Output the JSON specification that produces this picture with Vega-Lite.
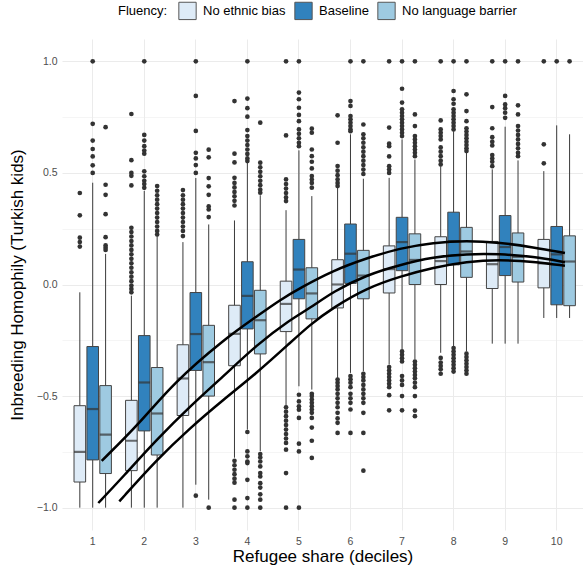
{
"$schema": "https://vega.github.io/schema/vega-lite/v6.json",
"width": 521, "height": 491,
"autosize": {"type": "none"},
"padding": {"left": 62, "top": 39, "right": 0, "bottom": 39},
"background": "white",
"config": {
  "font": "Liberation Sans",
  "view": {"stroke": null},
  "axis": {"domain": false, "ticks": false, "gridColor": "#ebebeb", "labelColor": "#4d4d4d", "labelFontSize": 10.5, "titleFontWeight": "normal", "titleColor": "#000000", "titleFontSize": 17}
},
"datasets": {
"boxes": [
{"decile":1,"fluency":"No ethnic bias","lo":-1.0,"q1":-0.885,"med":-0.75,"q3":-0.543,"hi":-0.035},
{"decile":1,"fluency":"Baseline","lo":-1.0,"q1":-0.786,"med":-0.558,"q3":-0.278,"hi":0.456},
{"decile":1,"fluency":"No language barrier","lo":-1.0,"q1":-0.847,"med":-0.673,"q3":-0.453,"hi":0.137},
{"decile":2,"fluency":"No ethnic bias","lo":-1.0,"q1":-0.834,"med":-0.70,"q3":-0.519,"hi":-0.05},
{"decile":2,"fluency":"Baseline","lo":-1.0,"q1":-0.656,"med":-0.439,"q3":-0.229,"hi":0.419},
{"decile":2,"fluency":"No language barrier","lo":-1.0,"q1":-0.764,"med":-0.578,"q3":-0.372,"hi":0.217},
{"decile":3,"fluency":"No ethnic bias","lo":-1.0,"q1":-0.587,"med":-0.421,"q3":-0.27,"hi":0.19},
{"decile":3,"fluency":"Baseline","lo":-0.897,"q1":-0.385,"med":-0.222,"q3":-0.036,"hi":0.477},
{"decile":3,"fluency":"No language barrier","lo":-0.964,"q1":-0.50,"med":-0.348,"q3":-0.183,"hi":0.269},
{"decile":4,"fluency":"No ethnic bias","lo":-0.776,"q1":-0.364,"med":-0.221,"q3":-0.093,"hi":0.287},
{"decile":4,"fluency":"Baseline","lo":-0.65,"q1":-0.199,"med":-0.051,"q3":0.102,"hi":0.546},
{"decile":4,"fluency":"No language barrier","lo":-0.747,"q1":-0.311,"med":-0.16,"q3":-0.026,"hi":0.40},
{"decile":5,"fluency":"No ethnic bias","lo":-0.546,"q1":-0.211,"med":-0.087,"q3":0.015,"hi":0.333},
{"decile":5,"fluency":"Baseline","lo":-0.456,"q1":-0.064,"med":0.067,"q3":0.202,"hi":0.601},
{"decile":5,"fluency":"No language barrier","lo":-0.471,"q1":-0.154,"med":-0.04,"q3":0.075,"hi":0.396},
{"decile":6,"fluency":"No ethnic bias","lo":-0.419,"q1":-0.105,"med":0.0,"q3":0.111,"hi":0.434},
{"decile":6,"fluency":"Baseline","lo":-0.396,"q1":0.005,"med":0.138,"q3":0.271,"hi":0.673},
{"decile":6,"fluency":"No language barrier","lo":-0.389,"q1":-0.064,"med":0.04,"q3":0.153,"hi":0.474},
{"decile":7,"fluency":"No ethnic bias","lo":-0.359,"q1":-0.038,"med":0.069,"q3":0.173,"hi":0.478},
{"decile":7,"fluency":"Baseline","lo":-0.291,"q1":0.062,"med":0.19,"q3":0.301,"hi":0.65},
{"decile":7,"fluency":"No language barrier","lo":-0.336,"q1":0.0,"med":0.11,"q3":0.227,"hi":0.56},
{"decile":8,"fluency":"No ethnic bias","lo":-0.306,"q1":0.0,"med":0.105,"q3":0.214,"hi":0.53},
{"decile":8,"fluency":"Baseline","lo":-0.276,"q1":0.088,"med":0.194,"q3":0.324,"hi":0.687},
{"decile":8,"fluency":"No language barrier","lo":-0.30,"q1":0.032,"med":0.148,"q3":0.256,"hi":0.59},
{"decile":9,"fluency":"No ethnic bias","lo":-0.265,"q1":-0.018,"med":0.091,"q3":0.193,"hi":0.516},
{"decile":9,"fluency":"Baseline","lo":-0.265,"q1":0.04,"med":0.168,"q3":0.309,"hi":0.707},
{"decile":9,"fluency":"No language barrier","lo":-0.265,"q1":0.011,"med":0.124,"q3":0.231,"hi":0.556},
{"decile":10,"fluency":"No ethnic bias","lo":-0.15,"q1":-0.015,"med":0.095,"q3":0.202,"hi":0.508},
{"decile":10,"fluency":"Baseline","lo":-0.15,"q1":-0.091,"med":0.135,"q3":0.26,"hi":0.713},
{"decile":10,"fluency":"No language barrier","lo":-0.15,"q1":-0.095,"med":0.103,"q3":0.218,"hi":0.673}
],
"outliers": [
{"decile":1,"fluency":"No ethnic bias","value":0.41},{"decile":1,"fluency":"No ethnic bias","value":0.31},{"decile":1,"fluency":"No ethnic bias","value":0.21},{"decile":1,"fluency":"No ethnic bias","value":0.19},{"decile":1,"fluency":"No ethnic bias","value":0.17},
{"decile":1,"fluency":"Baseline","value":1.0},{"decile":1,"fluency":"Baseline","value":0.72},{"decile":1,"fluency":"Baseline","value":0.645},{"decile":1,"fluency":"Baseline","value":0.607},{"decile":1,"fluency":"Baseline","value":0.574},{"decile":1,"fluency":"Baseline","value":0.534},{"decile":1,"fluency":"Baseline","value":0.50},
{"decile":1,"fluency":"No language barrier","value":0.705},{"decile":1,"fluency":"No language barrier","value":0.447},{"decile":1,"fluency":"No language barrier","value":0.402},{"decile":1,"fluency":"No language barrier","value":0.315},{"decile":1,"fluency":"No language barrier","value":0.212},{"decile":1,"fluency":"No language barrier","value":0.175},{"decile":1,"fluency":"No language barrier","value":0.165},{"decile":1,"fluency":"No language barrier","value":0.155},
{"decile":2,"fluency":"No ethnic bias","value":0.764},{"decile":2,"fluency":"No ethnic bias","value":0.557},{"decile":2,"fluency":"No ethnic bias","value":0.50},{"decile":2,"fluency":"No ethnic bias","value":0.487},{"decile":2,"fluency":"No ethnic bias","value":0.444},{"decile":2,"fluency":"No ethnic bias","value":0.254},{"decile":2,"fluency":"No ethnic bias","value":0.235},{"decile":2,"fluency":"No ethnic bias","value":0.215},{"decile":2,"fluency":"No ethnic bias","value":0.195},{"decile":2,"fluency":"No ethnic bias","value":0.175},{"decile":2,"fluency":"No ethnic bias","value":0.155},{"decile":2,"fluency":"No ethnic bias","value":0.135},{"decile":2,"fluency":"No ethnic bias","value":0.115},{"decile":2,"fluency":"No ethnic bias","value":0.095},{"decile":2,"fluency":"No ethnic bias","value":0.075},{"decile":2,"fluency":"No ethnic bias","value":0.055},{"decile":2,"fluency":"No ethnic bias","value":0.035},{"decile":2,"fluency":"No ethnic bias","value":0.015},{"decile":2,"fluency":"No ethnic bias","value":-0.005},{"decile":2,"fluency":"No ethnic bias","value":-0.02},{"decile":2,"fluency":"No ethnic bias","value":-0.035},
{"decile":2,"fluency":"Baseline","value":1.0},{"decile":2,"fluency":"Baseline","value":0.67},{"decile":2,"fluency":"Baseline","value":0.645},{"decile":2,"fluency":"Baseline","value":0.62},{"decile":2,"fluency":"Baseline","value":0.60},{"decile":2,"fluency":"Baseline","value":0.586},{"decile":2,"fluency":"Baseline","value":0.507},{"decile":2,"fluency":"Baseline","value":0.485},{"decile":2,"fluency":"Baseline","value":0.465},{"decile":2,"fluency":"Baseline","value":0.45},{"decile":2,"fluency":"Baseline","value":0.433},
{"decile":2,"fluency":"No language barrier","value":0.441},{"decile":2,"fluency":"No language barrier","value":0.42},{"decile":2,"fluency":"No language barrier","value":0.40},{"decile":2,"fluency":"No language barrier","value":0.38},{"decile":2,"fluency":"No language barrier","value":0.36},{"decile":2,"fluency":"No language barrier","value":0.34},{"decile":2,"fluency":"No language barrier","value":0.32},{"decile":2,"fluency":"No language barrier","value":0.30},{"decile":2,"fluency":"No language barrier","value":0.28},{"decile":2,"fluency":"No language barrier","value":0.26},{"decile":2,"fluency":"No language barrier","value":0.24},{"decile":2,"fluency":"No language barrier","value":0.224},
{"decile":3,"fluency":"No ethnic bias","value":0.423},{"decile":3,"fluency":"No ethnic bias","value":0.40},{"decile":3,"fluency":"No ethnic bias","value":0.38},{"decile":3,"fluency":"No ethnic bias","value":0.36},{"decile":3,"fluency":"No ethnic bias","value":0.34},{"decile":3,"fluency":"No ethnic bias","value":0.32},{"decile":3,"fluency":"No ethnic bias","value":0.30},{"decile":3,"fluency":"No ethnic bias","value":0.28},{"decile":3,"fluency":"No ethnic bias","value":0.26},{"decile":3,"fluency":"No ethnic bias","value":0.24},{"decile":3,"fluency":"No ethnic bias","value":0.217},
{"decile":3,"fluency":"Baseline","value":1.0},{"decile":3,"fluency":"Baseline","value":0.845},{"decile":3,"fluency":"Baseline","value":0.688},{"decile":3,"fluency":"Baseline","value":0.59},{"decile":3,"fluency":"Baseline","value":0.565},{"decile":3,"fluency":"Baseline","value":0.535},{"decile":3,"fluency":"Baseline","value":0.50},{"decile":3,"fluency":"Baseline","value":-0.946},
{"decile":3,"fluency":"No language barrier","value":0.604},{"decile":3,"fluency":"No language barrier","value":0.57},{"decile":3,"fluency":"No language barrier","value":0.477},{"decile":3,"fluency":"No language barrier","value":0.44},{"decile":3,"fluency":"No language barrier","value":0.402},{"decile":3,"fluency":"No language barrier","value":0.35},{"decile":3,"fluency":"No language barrier","value":0.336},{"decile":3,"fluency":"No language barrier","value":0.302},{"decile":3,"fluency":"No language barrier","value":-1.0},
{"decile":4,"fluency":"No ethnic bias","value":0.822},{"decile":4,"fluency":"No ethnic bias","value":0.586},{"decile":4,"fluency":"No ethnic bias","value":0.547},{"decile":4,"fluency":"No ethnic bias","value":0.478},{"decile":4,"fluency":"No ethnic bias","value":0.455},{"decile":4,"fluency":"No ethnic bias","value":0.435},{"decile":4,"fluency":"No ethnic bias","value":0.415},{"decile":4,"fluency":"No ethnic bias","value":0.395},{"decile":4,"fluency":"No ethnic bias","value":0.375},{"decile":4,"fluency":"No ethnic bias","value":0.354},{"decile":4,"fluency":"No ethnic bias","value":-0.79},{"decile":4,"fluency":"No ethnic bias","value":-0.81},{"decile":4,"fluency":"No ethnic bias","value":-0.83},{"decile":4,"fluency":"No ethnic bias","value":-0.85},{"decile":4,"fluency":"No ethnic bias","value":-0.87},{"decile":4,"fluency":"No ethnic bias","value":-0.888},{"decile":4,"fluency":"No ethnic bias","value":-0.964},{"decile":4,"fluency":"No ethnic bias","value":-1.0},
{"decile":4,"fluency":"Baseline","value":1.0},{"decile":4,"fluency":"Baseline","value":0.833},{"decile":4,"fluency":"Baseline","value":0.79},{"decile":4,"fluency":"Baseline","value":0.752},{"decile":4,"fluency":"Baseline","value":0.692},{"decile":4,"fluency":"Baseline","value":0.665},{"decile":4,"fluency":"Baseline","value":0.645},{"decile":4,"fluency":"Baseline","value":0.625},{"decile":4,"fluency":"Baseline","value":0.605},{"decile":4,"fluency":"Baseline","value":0.585},{"decile":4,"fluency":"Baseline","value":0.565},{"decile":4,"fluency":"Baseline","value":0.553},{"decile":4,"fluency":"Baseline","value":-0.661},{"decile":4,"fluency":"Baseline","value":-0.748},{"decile":4,"fluency":"Baseline","value":-0.77},{"decile":4,"fluency":"Baseline","value":-0.793},{"decile":4,"fluency":"Baseline","value":-0.80},{"decile":4,"fluency":"Baseline","value":-0.875},{"decile":4,"fluency":"Baseline","value":-0.957},{"decile":4,"fluency":"Baseline","value":-1.0},
{"decile":4,"fluency":"No language barrier","value":0.725},{"decile":4,"fluency":"No language barrier","value":0.546},{"decile":4,"fluency":"No language barrier","value":0.525},{"decile":4,"fluency":"No language barrier","value":0.505},{"decile":4,"fluency":"No language barrier","value":0.485},{"decile":4,"fluency":"No language barrier","value":0.465},{"decile":4,"fluency":"No language barrier","value":0.445},{"decile":4,"fluency":"No language barrier","value":0.425},{"decile":4,"fluency":"No language barrier","value":0.411},{"decile":4,"fluency":"No language barrier","value":-0.76},{"decile":4,"fluency":"No language barrier","value":-0.775},{"decile":4,"fluency":"No language barrier","value":-0.793},{"decile":4,"fluency":"No language barrier","value":-0.815},{"decile":4,"fluency":"No language barrier","value":-0.845},{"decile":4,"fluency":"No language barrier","value":-0.86},{"decile":4,"fluency":"No language barrier","value":-0.89},{"decile":4,"fluency":"No language barrier","value":-0.91},{"decile":4,"fluency":"No language barrier","value":-0.94},{"decile":4,"fluency":"No language barrier","value":-0.964},{"decile":4,"fluency":"No language barrier","value":-1.0},
{"decile":5,"fluency":"No ethnic bias","value":1.0},{"decile":5,"fluency":"No ethnic bias","value":0.668},{"decile":5,"fluency":"No ethnic bias","value":0.471},{"decile":5,"fluency":"No ethnic bias","value":0.45},{"decile":5,"fluency":"No ethnic bias","value":0.43},{"decile":5,"fluency":"No ethnic bias","value":0.41},{"decile":5,"fluency":"No ethnic bias","value":0.39},{"decile":5,"fluency":"No ethnic bias","value":0.374},{"decile":5,"fluency":"No ethnic bias","value":-0.55},{"decile":5,"fluency":"No ethnic bias","value":-0.57},{"decile":5,"fluency":"No ethnic bias","value":-0.59},{"decile":5,"fluency":"No ethnic bias","value":-0.61},{"decile":5,"fluency":"No ethnic bias","value":-0.63},{"decile":5,"fluency":"No ethnic bias","value":-0.65},{"decile":5,"fluency":"No ethnic bias","value":-0.67},{"decile":5,"fluency":"No ethnic bias","value":-0.69},{"decile":5,"fluency":"No ethnic bias","value":-0.71},{"decile":5,"fluency":"No ethnic bias","value":-0.74},{"decile":5,"fluency":"No ethnic bias","value":-0.845},{"decile":5,"fluency":"No ethnic bias","value":-1.0},
{"decile":5,"fluency":"Baseline","value":1.0},{"decile":5,"fluency":"Baseline","value":0.86},{"decile":5,"fluency":"Baseline","value":0.83},{"decile":5,"fluency":"Baseline","value":0.792},{"decile":5,"fluency":"Baseline","value":0.76},{"decile":5,"fluency":"Baseline","value":0.732},{"decile":5,"fluency":"Baseline","value":0.695},{"decile":5,"fluency":"Baseline","value":0.675},{"decile":5,"fluency":"Baseline","value":0.655},{"decile":5,"fluency":"Baseline","value":0.635},{"decile":5,"fluency":"Baseline","value":0.62},{"decile":5,"fluency":"Baseline","value":-0.494},{"decile":5,"fluency":"Baseline","value":-0.524},{"decile":5,"fluency":"Baseline","value":-0.546},{"decile":5,"fluency":"Baseline","value":-0.561},{"decile":5,"fluency":"Baseline","value":-0.598},{"decile":5,"fluency":"Baseline","value":-0.713},{"decile":5,"fluency":"Baseline","value":-0.748},{"decile":5,"fluency":"Baseline","value":-1.0},
{"decile":5,"fluency":"No language barrier","value":0.698},{"decile":5,"fluency":"No language barrier","value":0.68},{"decile":5,"fluency":"No language barrier","value":0.605},{"decile":5,"fluency":"No language barrier","value":0.575},{"decile":5,"fluency":"No language barrier","value":0.55},{"decile":5,"fluency":"No language barrier","value":0.52},{"decile":5,"fluency":"No language barrier","value":0.486},{"decile":5,"fluency":"No language barrier","value":0.47},{"decile":5,"fluency":"No language barrier","value":0.455},{"decile":5,"fluency":"No language barrier","value":0.434},{"decile":5,"fluency":"No language barrier","value":-0.49},{"decile":5,"fluency":"No language barrier","value":-0.50},{"decile":5,"fluency":"No language barrier","value":-0.515},{"decile":5,"fluency":"No language barrier","value":-0.53},{"decile":5,"fluency":"No language barrier","value":-0.545},{"decile":5,"fluency":"No language barrier","value":-0.56},{"decile":5,"fluency":"No language barrier","value":-0.575},{"decile":5,"fluency":"No language barrier","value":-0.598},{"decile":5,"fluency":"No language barrier","value":-0.641},{"decile":5,"fluency":"No language barrier","value":-0.70},{"decile":5,"fluency":"No language barrier","value":-0.777},
{"decile":6,"fluency":"No ethnic bias","value":0.758},{"decile":6,"fluency":"No ethnic bias","value":0.635},{"decile":6,"fluency":"No ethnic bias","value":0.531},{"decile":6,"fluency":"No ethnic bias","value":0.51},{"decile":6,"fluency":"No ethnic bias","value":0.49},{"decile":6,"fluency":"No ethnic bias","value":0.471},{"decile":6,"fluency":"No ethnic bias","value":0.455},{"decile":6,"fluency":"No ethnic bias","value":0.441},{"decile":6,"fluency":"No ethnic bias","value":-0.426},{"decile":6,"fluency":"No ethnic bias","value":-0.44},{"decile":6,"fluency":"No ethnic bias","value":-0.455},{"decile":6,"fluency":"No ethnic bias","value":-0.47},{"decile":6,"fluency":"No ethnic bias","value":-0.49},{"decile":6,"fluency":"No ethnic bias","value":-0.51},{"decile":6,"fluency":"No ethnic bias","value":-0.53},{"decile":6,"fluency":"No ethnic bias","value":-0.55},{"decile":6,"fluency":"No ethnic bias","value":-0.575},{"decile":6,"fluency":"No ethnic bias","value":-0.60},{"decile":6,"fluency":"No ethnic bias","value":-0.62},{"decile":6,"fluency":"No ethnic bias","value":-0.665},
{"decile":6,"fluency":"Baseline","value":1.0},{"decile":6,"fluency":"Baseline","value":0.822},{"decile":6,"fluency":"Baseline","value":0.80},{"decile":6,"fluency":"Baseline","value":0.755},{"decile":6,"fluency":"Baseline","value":0.74},{"decile":6,"fluency":"Baseline","value":0.725},{"decile":6,"fluency":"Baseline","value":0.71},{"decile":6,"fluency":"Baseline","value":0.695},{"decile":6,"fluency":"Baseline","value":0.687},{"decile":6,"fluency":"Baseline","value":-0.41},{"decile":6,"fluency":"Baseline","value":-0.425},{"decile":6,"fluency":"Baseline","value":-0.44},{"decile":6,"fluency":"Baseline","value":-0.46},{"decile":6,"fluency":"Baseline","value":-0.49},{"decile":6,"fluency":"Baseline","value":-0.51},{"decile":6,"fluency":"Baseline","value":-0.53},{"decile":6,"fluency":"Baseline","value":-0.56},{"decile":6,"fluency":"Baseline","value":-0.665},
{"decile":6,"fluency":"No language barrier","value":1.0},{"decile":6,"fluency":"No language barrier","value":0.717},{"decile":6,"fluency":"No language barrier","value":0.673},{"decile":6,"fluency":"No language barrier","value":0.655},{"decile":6,"fluency":"No language barrier","value":0.635},{"decile":6,"fluency":"No language barrier","value":0.615},{"decile":6,"fluency":"No language barrier","value":0.595},{"decile":6,"fluency":"No language barrier","value":0.575},{"decile":6,"fluency":"No language barrier","value":0.555},{"decile":6,"fluency":"No language barrier","value":0.535},{"decile":6,"fluency":"No language barrier","value":0.515},{"decile":6,"fluency":"No language barrier","value":0.495},{"decile":6,"fluency":"No language barrier","value":-0.40},{"decile":6,"fluency":"No language barrier","value":-0.415},{"decile":6,"fluency":"No language barrier","value":-0.43},{"decile":6,"fluency":"No language barrier","value":-0.45},{"decile":6,"fluency":"No language barrier","value":-0.47},{"decile":6,"fluency":"No language barrier","value":-0.49},{"decile":6,"fluency":"No language barrier","value":-0.51},{"decile":6,"fluency":"No language barrier","value":-0.53},{"decile":6,"fluency":"No language barrier","value":-0.575},{"decile":6,"fluency":"No language barrier","value":-0.665},{"decile":6,"fluency":"No language barrier","value":-0.834},
{"decile":7,"fluency":"No ethnic bias","value":1.0},{"decile":7,"fluency":"No ethnic bias","value":0.703},{"decile":7,"fluency":"No ethnic bias","value":0.631},{"decile":7,"fluency":"No ethnic bias","value":0.62},{"decile":7,"fluency":"No ethnic bias","value":0.574},{"decile":7,"fluency":"No ethnic bias","value":0.53},{"decile":7,"fluency":"No ethnic bias","value":0.515},{"decile":7,"fluency":"No ethnic bias","value":0.50},{"decile":7,"fluency":"No ethnic bias","value":-0.37},{"decile":7,"fluency":"No ethnic bias","value":-0.385},{"decile":7,"fluency":"No ethnic bias","value":-0.40},{"decile":7,"fluency":"No ethnic bias","value":-0.415},{"decile":7,"fluency":"No ethnic bias","value":-0.43},{"decile":7,"fluency":"No ethnic bias","value":-0.445},{"decile":7,"fluency":"No ethnic bias","value":-0.46},{"decile":7,"fluency":"No ethnic bias","value":-0.496},{"decile":7,"fluency":"No ethnic bias","value":-0.564},
{"decile":7,"fluency":"Baseline","value":1.0},{"decile":7,"fluency":"Baseline","value":0.877},{"decile":7,"fluency":"Baseline","value":0.815},{"decile":7,"fluency":"Baseline","value":0.785},{"decile":7,"fluency":"Baseline","value":0.77},{"decile":7,"fluency":"Baseline","value":0.755},{"decile":7,"fluency":"Baseline","value":0.74},{"decile":7,"fluency":"Baseline","value":0.725},{"decile":7,"fluency":"Baseline","value":0.71},{"decile":7,"fluency":"Baseline","value":0.695},{"decile":7,"fluency":"Baseline","value":0.68},{"decile":7,"fluency":"Baseline","value":0.665},{"decile":7,"fluency":"Baseline","value":-0.30},{"decile":7,"fluency":"Baseline","value":-0.315},{"decile":7,"fluency":"Baseline","value":-0.33},{"decile":7,"fluency":"Baseline","value":-0.345},{"decile":7,"fluency":"Baseline","value":-0.41},{"decile":7,"fluency":"Baseline","value":-0.43},{"decile":7,"fluency":"Baseline","value":-0.45},{"decile":7,"fluency":"Baseline","value":-0.50},{"decile":7,"fluency":"Baseline","value":-0.564},
{"decile":7,"fluency":"No language barrier","value":1.0},{"decile":7,"fluency":"No language barrier","value":0.762},{"decile":7,"fluency":"No language barrier","value":0.71},{"decile":7,"fluency":"No language barrier","value":0.665},{"decile":7,"fluency":"No language barrier","value":0.65},{"decile":7,"fluency":"No language barrier","value":0.635},{"decile":7,"fluency":"No language barrier","value":0.62},{"decile":7,"fluency":"No language barrier","value":0.605},{"decile":7,"fluency":"No language barrier","value":0.59},{"decile":7,"fluency":"No language barrier","value":0.575},{"decile":7,"fluency":"No language barrier","value":-0.345},{"decile":7,"fluency":"No language barrier","value":-0.36},{"decile":7,"fluency":"No language barrier","value":-0.375},{"decile":7,"fluency":"No language barrier","value":-0.39},{"decile":7,"fluency":"No language barrier","value":-0.405},{"decile":7,"fluency":"No language barrier","value":-0.42},{"decile":7,"fluency":"No language barrier","value":-0.44},{"decile":7,"fluency":"No language barrier","value":-0.46},{"decile":7,"fluency":"No language barrier","value":-0.50},{"decile":7,"fluency":"No language barrier","value":-0.565},{"decile":7,"fluency":"No language barrier","value":-0.59},
{"decile":8,"fluency":"No ethnic bias","value":1.0},{"decile":8,"fluency":"No ethnic bias","value":0.735},{"decile":8,"fluency":"No ethnic bias","value":0.695},{"decile":8,"fluency":"No ethnic bias","value":0.68},{"decile":8,"fluency":"No ethnic bias","value":0.665},{"decile":8,"fluency":"No ethnic bias","value":0.65},{"decile":8,"fluency":"No ethnic bias","value":0.614},{"decile":8,"fluency":"No ethnic bias","value":0.595},{"decile":8,"fluency":"No ethnic bias","value":0.575},{"decile":8,"fluency":"No ethnic bias","value":0.555},{"decile":8,"fluency":"No ethnic bias","value":0.538},{"decile":8,"fluency":"No ethnic bias","value":-0.329},{"decile":8,"fluency":"No ethnic bias","value":-0.35},{"decile":8,"fluency":"No ethnic bias","value":-0.365},{"decile":8,"fluency":"No ethnic bias","value":-0.38},{"decile":8,"fluency":"No ethnic bias","value":-0.40},
{"decile":8,"fluency":"Baseline","value":1.0},{"decile":8,"fluency":"Baseline","value":0.867},{"decile":8,"fluency":"Baseline","value":0.83},{"decile":8,"fluency":"Baseline","value":0.81},{"decile":8,"fluency":"Baseline","value":0.785},{"decile":8,"fluency":"Baseline","value":0.77},{"decile":8,"fluency":"Baseline","value":0.755},{"decile":8,"fluency":"Baseline","value":0.74},{"decile":8,"fluency":"Baseline","value":0.725},{"decile":8,"fluency":"Baseline","value":0.71},{"decile":8,"fluency":"Baseline","value":0.695},{"decile":8,"fluency":"Baseline","value":-0.285},{"decile":8,"fluency":"Baseline","value":-0.30},{"decile":8,"fluency":"Baseline","value":-0.315},{"decile":8,"fluency":"Baseline","value":-0.33},{"decile":8,"fluency":"Baseline","value":-0.345},{"decile":8,"fluency":"Baseline","value":-0.36},{"decile":8,"fluency":"Baseline","value":-0.375},{"decile":8,"fluency":"Baseline","value":-0.39},
{"decile":8,"fluency":"No language barrier","value":1.0},{"decile":8,"fluency":"No language barrier","value":0.852},{"decile":8,"fluency":"No language barrier","value":0.777},{"decile":8,"fluency":"No language barrier","value":0.732},{"decile":8,"fluency":"No language barrier","value":0.70},{"decile":8,"fluency":"No language barrier","value":0.685},{"decile":8,"fluency":"No language barrier","value":0.67},{"decile":8,"fluency":"No language barrier","value":0.655},{"decile":8,"fluency":"No language barrier","value":0.64},{"decile":8,"fluency":"No language barrier","value":0.625},{"decile":8,"fluency":"No language barrier","value":0.61},{"decile":8,"fluency":"No language barrier","value":0.598},{"decile":8,"fluency":"No language barrier","value":-0.31},{"decile":8,"fluency":"No language barrier","value":-0.325},{"decile":8,"fluency":"No language barrier","value":-0.34},{"decile":8,"fluency":"No language barrier","value":-0.355},{"decile":8,"fluency":"No language barrier","value":-0.37},{"decile":8,"fluency":"No language barrier","value":-0.385},{"decile":8,"fluency":"No language barrier","value":-0.40},
{"decile":9,"fluency":"No ethnic bias","value":1.0},{"decile":9,"fluency":"No ethnic bias","value":0.795},{"decile":9,"fluency":"No ethnic bias","value":0.70},{"decile":9,"fluency":"No ethnic bias","value":0.66},{"decile":9,"fluency":"No ethnic bias","value":0.64},{"decile":9,"fluency":"No ethnic bias","value":0.623},{"decile":9,"fluency":"No ethnic bias","value":0.58},{"decile":9,"fluency":"No ethnic bias","value":0.565},{"decile":9,"fluency":"No ethnic bias","value":0.55},{"decile":9,"fluency":"No ethnic bias","value":0.53},
{"decile":9,"fluency":"Baseline","value":1.0},{"decile":9,"fluency":"Baseline","value":0.845},{"decile":9,"fluency":"Baseline","value":0.807},{"decile":9,"fluency":"Baseline","value":0.79},{"decile":9,"fluency":"Baseline","value":0.77},{"decile":9,"fluency":"Baseline","value":0.747},
{"decile":9,"fluency":"No language barrier","value":1.0},{"decile":9,"fluency":"No language barrier","value":0.803},{"decile":9,"fluency":"No language barrier","value":0.762},{"decile":9,"fluency":"No language barrier","value":0.71},{"decile":9,"fluency":"No language barrier","value":0.69},{"decile":9,"fluency":"No language barrier","value":0.67},{"decile":9,"fluency":"No language barrier","value":0.65},{"decile":9,"fluency":"No language barrier","value":0.63},{"decile":9,"fluency":"No language barrier","value":0.61},{"decile":9,"fluency":"No language barrier","value":0.59},{"decile":9,"fluency":"No language barrier","value":0.575},
{"decile":10,"fluency":"No ethnic bias","value":1.0},{"decile":10,"fluency":"No ethnic bias","value":0.628},{"decile":10,"fluency":"No ethnic bias","value":0.543},
{"decile":10,"fluency":"Baseline","value":1.0},
{"decile":10,"fluency":"No language barrier","value":1.0}
],
"fits": [
{"fit":"A","share":1.175,"homophily":-0.79},{"fit":"A","share":1.917,"homophily":-0.62},{"fit":"A","share":2.563,"homophily":-0.442},{"fit":"A","share":3.533,"homophily":-0.248},{"fit":"A","share":4.181,"homophily":-0.143},{"fit":"A","share":4.633,"homophily":-0.069},{"fit":"A","share":5.02,"homophily":-0.016},{"fit":"A","share":5.666,"homophily":0.063},{"fit":"A","share":6.314,"homophily":0.118},{"fit":"A","share":6.96,"homophily":0.163},{"fit":"A","share":7.606,"homophily":0.188},{"fit":"A","share":8.254,"homophily":0.197},{"fit":"A","share":8.9,"homophily":0.188},{"fit":"A","share":9.545,"homophily":0.167},{"fit":"A","share":10.16,"homophily":0.141},
{"fit":"B","share":1.109,"homophily":-0.979},{"fit":"B","share":1.593,"homophily":-0.86},{"fit":"B","share":2.241,"homophily":-0.695},{"fit":"B","share":2.887,"homophily":-0.546},{"fit":"B","share":3.533,"homophily":-0.412},{"fit":"B","share":4.181,"homophily":-0.27},{"fit":"B","share":4.827,"homophily":-0.158},{"fit":"B","share":5.215,"homophily":-0.106},{"fit":"B","share":5.666,"homophily":-0.031},{"fit":"B","share":6.314,"homophily":0.043},{"fit":"B","share":6.96,"homophily":0.088},{"fit":"B","share":7.606,"homophily":0.123},{"fit":"B","share":8.254,"homophily":0.137},{"fit":"B","share":8.9,"homophily":0.137},{"fit":"B","share":9.545,"homophily":0.125},{"fit":"B","share":10.16,"homophily":0.1},
{"fit":"C","share":1.516,"homophily":-0.972},{"fit":"C","share":2.241,"homophily":-0.785},{"fit":"C","share":2.887,"homophily":-0.643},{"fit":"C","share":3.533,"homophily":-0.516},{"fit":"C","share":4.181,"homophily":-0.397},{"fit":"C","share":4.827,"homophily":-0.262},{"fit":"C","share":5.215,"homophily":-0.18},{"fit":"C","share":5.666,"homophily":-0.103},{"fit":"C","share":6.314,"homophily":-0.016},{"fit":"C","share":6.96,"homophily":0.036},{"fit":"C","share":7.606,"homophily":0.076},{"fit":"C","share":8.254,"homophily":0.103},{"fit":"C","share":8.9,"homophily":0.111},{"fit":"C","share":9.545,"homophily":0.103},{"fit":"C","share":10.16,"homophily":0.084}
]
},
"layer": [
{
 "layer": [
  {
   "data": {"name": "boxes"},
   "encoding": {
     "x": {"field": "decile", "type": "ordinal", "scale": {"type": "band", "paddingInner": 0.25, "paddingOuter": 0.178, "align": 0.62},
       "axis": {"title": "Refugee share (deciles)", "labelAngle": 0, "bandPosition": 0.5, "labelPadding": 6, "titlePadding": 2, "grid": true}},
     "xOffset": {"field": "fluency", "type": "nominal", "scale": {"domain": ["No ethnic bias", "Baseline", "No language barrier"], "paddingInner": 0.1, "paddingOuter": 0.05}}
   },
   "layer": [
    {"mark": {"type": "rule", "color": "#3a3a3a", "strokeWidth": 1},
     "encoding": {"y": {"field": "lo", "type": "quantitative", "scale": {"domain": [-1.1, 1.1], "nice": false, "zero": false},
        "axis": {"title": "Inbreeding Homophily (Turkish kids)", "values": [-1, -0.75, -0.5, -0.25, 0, 0.25, 0.5, 0.75, 1],
          "labelExpr": "datum.value % 0.5 === 0 ? format(datum.value, '.1f') : ''",
          "gridWidth": {"condition": {"test": "datum.value % 0.5 !== 0", "value": 0.5}, "value": 1},
          "labelPadding": 5, "titlePadding": 10}},
       "y2": {"field": "hi"}}},
    {"mark": {"type": "bar", "stroke": "#444444", "strokeWidth": 1},
     "encoding": {"y": {"field": "q1", "type": "quantitative"}, "y2": {"field": "q3"},
       "color": {"field": "fluency", "type": "nominal",
         "scale": {"domain": ["No ethnic bias", "Baseline", "No language barrier"], "range": ["#deebf7", "#3182bd", "#9ecae1"]},
         "legend": {"title": "Fluency:", "orient": "none", "legendX": 56, "legendY": -38, "direction": "horizontal", "titleOrient": "left",
           "titleFontSize": 13, "titleFontWeight": "normal", "titleColor": "#000000", "labelFontSize": 13, "labelColor": "#000000",
           "symbolType": "square", "symbolSize": 300, "symbolStrokeColor": "#555555", "symbolStrokeWidth": 1, "symbolOpacity": 1,
           "labelOffset": 6, "columnPadding": 6, "titlePadding": 10}}}},
    {"mark": {"type": "tick", "color": "#333333", "thickness": 2.2, "size": 11.6},
     "encoding": {"y": {"field": "med", "type": "quantitative"}}}
   ]
  },
  {
   "data": {"name": "outliers"},
   "mark": {"type": "circle", "color": "#333333", "opacity": 1, "size": 22},
   "encoding": {
     "x": {"field": "decile", "type": "ordinal"},
     "xOffset": {"field": "fluency", "type": "nominal"},
     "y": {"field": "value", "type": "quantitative"}
   }
  }
 ]
},
{
 "data": {"name": "fits"},
 "mark": {"type": "line", "color": "#000000", "strokeWidth": 2.5, "interpolate": "basis"},
 "encoding": {
   "x": {"field": "share", "type": "quantitative", "scale": {"domain": [0.4045, 10.51], "nice": false, "zero": false}, "axis": null},
   "y": {"field": "homophily", "type": "quantitative"},
   "detail": {"field": "fit", "type": "nominal"}
 }
}
],
"resolve": {"scale": {"x": "independent"}}
}
